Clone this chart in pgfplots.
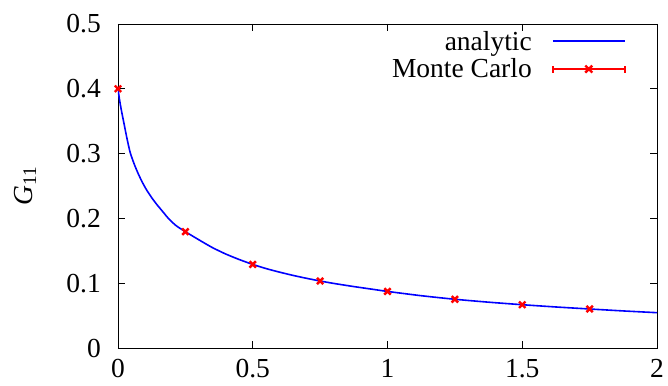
\documentclass[border=0pt]{standalone}
\usepackage{fontspec}
\setmainfont{Liberation Serif}
\usepackage{pgfplots}
\pgfplotsset{compat=1.18}
\definecolor{gpblue}{rgb}{0,0,1}
\definecolor{gpred}{rgb}{1,0,0}
\begin{document}
\begin{tikzpicture}
\useasboundingbox (-118pt,-37pt) rectangle (550pt,348pt);
\begin{axis}[
  at={(0,0)}, anchor=south west,
  scale only axis, width=539pt, height=324pt,
  xmin=0, xmax=2, ymin=0, ymax=0.5,
  xtick={0,0.5,1,1.5,2}, ytick={0,0.1,0.2,0.3,0.4,0.5},
  xticklabels={0,0.5,1,1.5,2},
  yticklabels={0,0.1,0.2,0.3,0.4,0.5},
  tick align=inside, major tick length=7pt,
  tick style={black, line width=0.8pt},
  axis line style={line width=0.9pt},
  font=\fontsize{27.5}{32}\selectfont,
  /pgf/number format/assume math mode=true,
  yticklabel style={inner sep=0pt, anchor=east, xshift=-17pt},
  xticklabel style={inner sep=0pt, anchor=north, yshift=-11pt},
  ylabel={\textit{G}\textsubscript{11}},
  ylabel style={at={(axis description cs:-0.1725,0.5)}, anchor=center},
  legend style={at={(1,1)}, anchor=north east, xshift=-28pt, yshift=-3pt,
    fill=none, draw=none, legend cell align=right, row sep=3pt, column sep=18pt,
    font=\fontsize{27.5}{32}\selectfont},
  legend plot pos=right,
]
\addplot[draw=gpblue, line width=1.6pt, smooth, tension=0.4,
  legend image code/.code={
    \path[draw=gpblue, line width=2pt] (0pt,0pt) -- (72pt,0pt);
  }] coordinates {
(0,0.400) (0.005,0.385) (0.012,0.368) (0.022,0.347) (0.033,0.324) (0.045,0.302)
(0.06,0.284) (0.075,0.269) (0.09,0.256) (0.106,0.244) (0.125,0.232) (0.143,0.222)
(0.165,0.211) (0.187,0.200) (0.215,0.189) (0.25,0.1795) (0.3,0.167) (0.35,0.155)
(0.4,0.145) (0.45,0.1365) (0.5,0.129) (0.55,0.1225) (0.6,0.117) (0.65,0.112)
(0.7,0.1075) (0.75,0.1034) (0.8,0.0997) (0.875,0.0948) (0.95,0.0903) (1.0,0.0873)
(1.125,0.0807) (1.25,0.0752) (1.375,0.0707) (1.5,0.0668) (1.625,0.0633)
(1.75,0.0602) (1.875,0.0572) (2.0,0.0545)
};
\addlegendentry{analytic}
\addplot[gpred, only marks, mark=x, mark size=4.5pt, mark options={line width=2.4pt},
  legend image code/.code={
    \path[draw=gpred, line width=2pt] (0pt,0pt) -- (72pt,0pt);
    \path[draw=gpred, line width=2pt] (0pt,-3.5pt) -- (0pt,3.5pt) (72pt,-3.5pt) -- (72pt,3.5pt);
    \path[draw=gpred, line width=2.4pt] (32.5pt,-3.5pt) -- (39.5pt,3.5pt) (32.5pt,3.5pt) -- (39.5pt,-3.5pt);
  }] coordinates {
(0,0.400) (0.25,0.1795) (0.5,0.129) (0.75,0.1034) (1,0.0873) (1.25,0.0752)
(1.5,0.0668) (1.75,0.0602)
};
\addlegendentry{Monte Carlo}
\end{axis}
\end{tikzpicture}
\end{document}
